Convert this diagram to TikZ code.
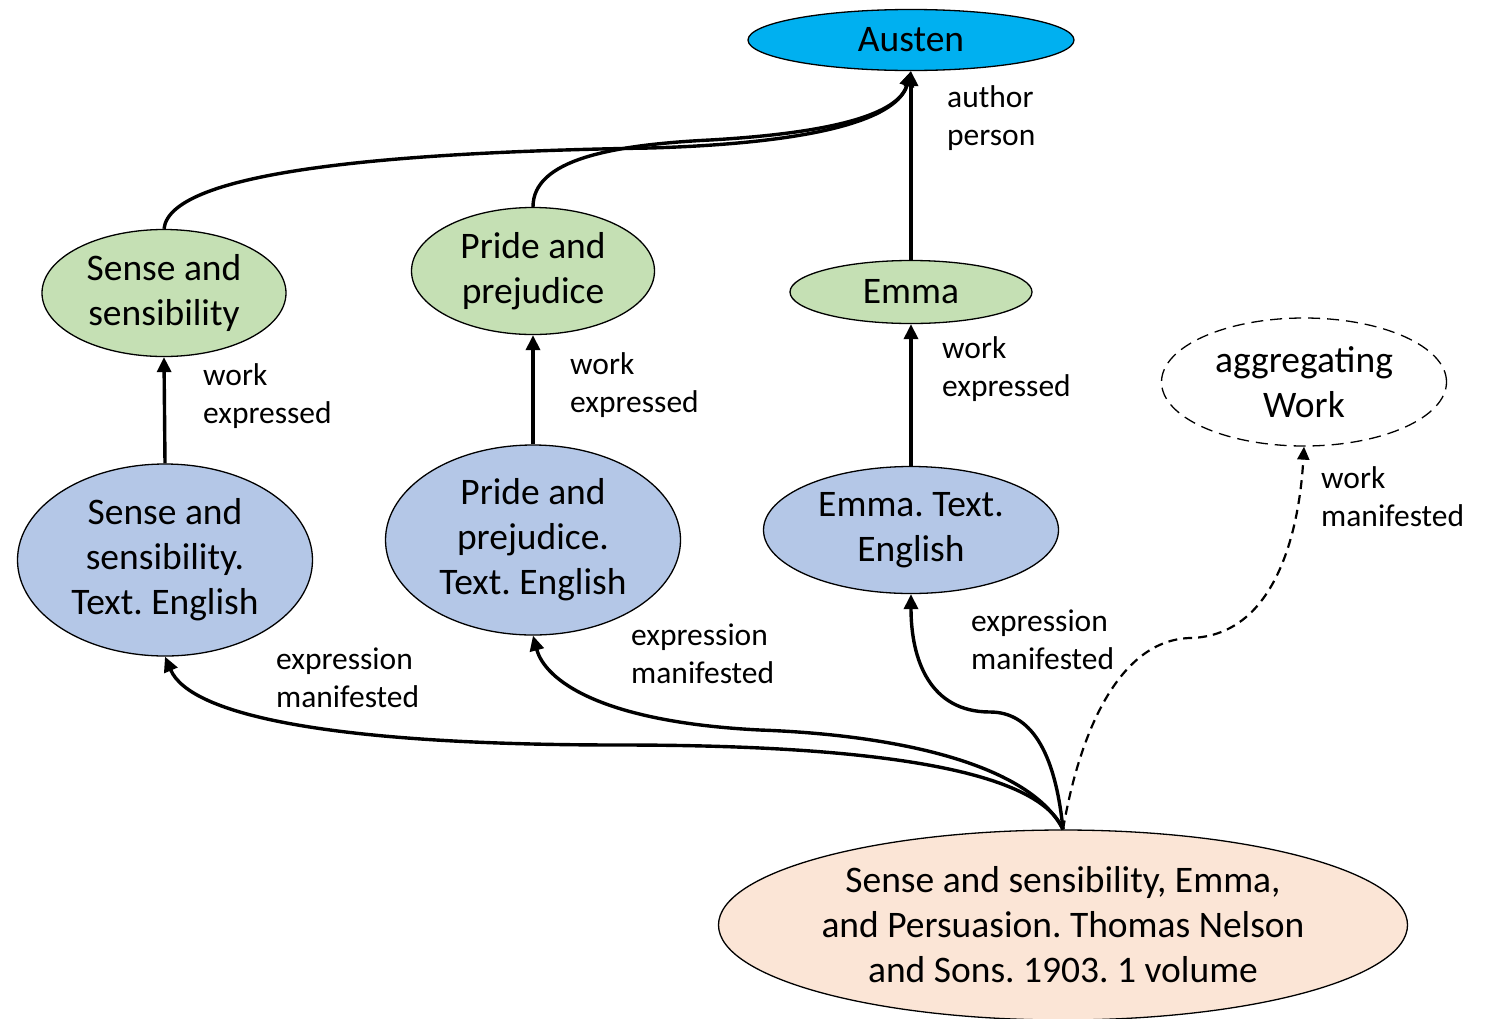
\documentclass[tikz,border=0pt]{standalone}
\usepackage{fontspec}
\setmainfont{Carlito}
\usetikzlibrary{shapes.geometric,arrows.meta}
\definecolor{austenc}{HTML}{00B0F0}
\definecolor{workc}{HTML}{C5E0B4}
\definecolor{exprc}{HTML}{B4C7E7}
\definecolor{manic}{HTML}{FBE5D6}
\tikzset{
  ent/.style={ellipse, draw=black, line width=1.3pt, inner sep=0pt, align=center,
    font=\fontsize{37.5}{45}\selectfont},
  workn/.style={ent, fill=workc},
  exprn/.style={ent, fill=exprc},
  lbl/.style={anchor=west, inner sep=0pt, align=left, font=\fontsize{31.5}{38}\selectfont},
  conn/.style={line width=3.4pt, -{Triangle[length=15pt,width=14pt]}},
}
\frenchspacing
\begin{document}
\begin{tikzpicture}[x=1pt,y=-1pt]
\useasboundingbox (0,0) rectangle (1488,1018);
% nodes
\node[ent, fill=austenc, minimum width=326, minimum height=61] (austen) at (911,40) {Austen};
\node[workn, minimum width=244, minimum height=127] (ssw) at (164,293) {Sense and\\sensibility};
\node[workn, minimum width=243, minimum height=127] (ppw) at (533,271) {Pride and\\prejudice};
\node[workn, minimum width=242, minimum height=63] (emw) at (911,292) {Emma};
\node[ent, dashed, dash pattern=on 12pt off 7pt, fill=white, minimum width=285, minimum height=128] (agg) at (1304,382) {aggregating\\Work};
\node[exprn, minimum width=295, minimum height=192] (sse) at (165,560) {Sense and\\sensibility.\\Text. English};
\node[exprn, minimum width=295, minimum height=190] (ppe) at (533,540) {Pride and\\prejudice.\\Text. English};
\node[exprn, minimum width=295, minimum height=127] (eme) at (911,530) {Emma. Text.\\English};
\node[ent, fill=manic, minimum width=689, minimum height=190] (man) at (1063,925) {Sense and sensibility, Emma,\\and Persuasion. Thomas Nelson\\and Sons. 1903. 1 volume};
% connectors
\draw[conn] (ssw.north) .. controls (170,170) and (400,152) .. (650,148) .. controls (850,142) and (900,110) .. (austen.south);
\draw[conn] (ppw.north) .. controls (533,160) and (610,145) .. (710,140) .. controls (850,132) and (900,110) .. (austen.south);
\draw[conn] (emw.north) -- (austen.south);
\draw[conn] (sse.north) -- (ssw.south);
\draw[conn] (ppe.north) -- (ppw.south);
\draw[conn] (eme.north) -- (emw.south);
\draw[conn] (man.north) .. controls (1040,775) and (900,745) .. (620,745) .. controls (330,745) and (190,715) .. (sse.south);
\draw[conn] (man.north) .. controls (1030,765) and (900,735) .. (760,730) .. controls (600,722) and (545,680) .. (ppe.south);
\draw[conn] (man.north) .. controls (1055,750) and (1030,712) .. (990,712) .. controls (930,712) and (911,660) .. (eme.south);
\draw[line width=2.2pt, dash pattern=on 9pt off 6pt, -{Triangle[length=13pt,width=12pt]}] (man.north) .. controls (1080,730) and (1120,640) .. (1190,638) .. controls (1280,636) and (1300,520) .. (agg.south);
% labels
\node[lbl] (l1) at (947,118) {author\\person};
\node[lbl] (l2) at (203,396) {work\\expressed};
\node[lbl] (l3) at (570,385) {work\\expressed};
\node[lbl] (l4) at (942,369) {work\\expressed};
\node[lbl] (l5) at (1321,497) {work\\manifested};
\node[lbl] (l6) at (276,678) {expression\\manifested};
\node[lbl] (l7) at (631,654) {expression\\manifested};
\node[lbl] (l8) at (971,640) {expression\\manifested};
\end{tikzpicture}
\end{document}
